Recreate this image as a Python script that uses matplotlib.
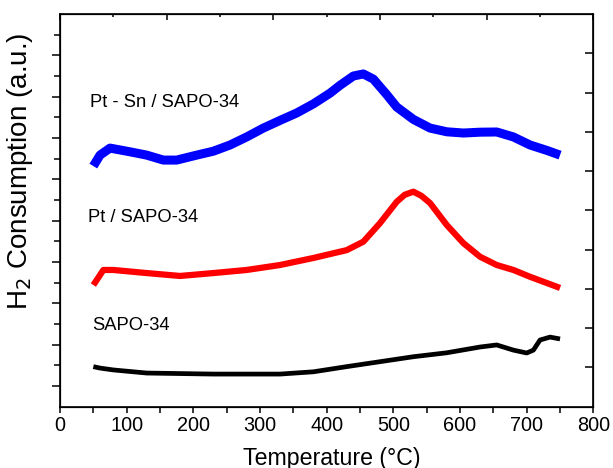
import matplotlib
matplotlib.use("Agg")
import matplotlib.pyplot as plt
import numpy as np

plt.rcParams['font.family'] = ['Liberation Sans', 'DejaVu Sans']

# ---- data (arbitrary units) ----
temp_ptsn = [50, 60, 75, 90, 105, 130, 155, 175, 205, 230, 255, 280, 305, 330, 355, 380, 405, 420, 440, 455, 470, 490, 505, 530, 555, 580, 605, 630, 655, 680, 705, 730, 750]
h2_ptsn = [11.64, 12.17, 12.51, 12.42, 12.33, 12.17, 11.93, 11.93, 12.17, 12.36, 12.66, 13.05, 13.48, 13.85, 14.21, 14.65, 15.17, 15.55, 16.00, 16.10, 15.85, 15.10, 14.50, 13.90, 13.48, 13.30, 13.24, 13.28, 13.29, 13.05, 12.66, 12.40, 12.17]

temp_pt = [50, 55, 65, 80, 130, 180, 230, 280, 330, 380, 430, 455, 480, 505, 517, 530, 542, 555, 580, 605, 630, 655, 680, 705, 730, 750]
h2_pt = [5.88, 6.12, 6.61, 6.61, 6.46, 6.32, 6.46, 6.61, 6.85, 7.19, 7.57, 7.98, 8.88, 9.91, 10.25, 10.40, 10.20, 9.85, 8.79, 7.91, 7.25, 6.85, 6.61, 6.28, 5.98, 5.74]

temp_sapo = [50, 60, 80, 130, 230, 330, 380, 430, 480, 530, 580, 630, 655, 680, 700, 710, 720, 735, 750]
h2_sapo = [1.93, 1.86, 1.77, 1.62, 1.57, 1.57, 1.68, 1.93, 2.17, 2.41, 2.60, 2.88, 2.98, 2.73, 2.59, 2.73, 3.22, 3.36, 3.27]

series_labels = ["Pt - Sn / SAPO-34", "Pt / SAPO-34", "SAPO-34"]
x_ticks = [0, 100, 200, 300, 400, 500, 600, 700, 800]

fig = plt.figure(figsize=(6.13, 4.68), dpi=100)
ax = fig.add_axes([0.0979, 0.1314, 0.8701, 0.8386])

ax.plot(temp_ptsn, h2_ptsn, color='#0000ff', lw=6.5, solid_joinstyle='round', solid_capstyle='butt')
ax.plot(temp_pt, h2_pt, color='#ff0000', lw=4.5, solid_joinstyle='round', solid_capstyle='butt')
ax.plot(temp_sapo, h2_sapo, color='black', lw=3.4, solid_joinstyle='round', solid_capstyle='butt')

ax.set_xlim(0, 800)
ax.set_ylim(0, 19)

ax.set_xticks(x_ticks)
ax.set_xticks(np.arange(50, 800, 100), minor=True)
ax.set_yticks(np.arange(1, 19, 2))
ax.set_yticks(np.arange(2, 19, 2), minor=True)
ax.set_yticklabels([])
ax.tick_params(axis='x', which='major', direction='out', length=4, width=1.1, labelsize=14.3, pad=3)
ax.tick_params(axis='x', which='minor', direction='out', length=4, width=1.1)
ax.tick_params(axis='y', which='major', direction='out', length=6, width=1.1)
ax.tick_params(axis='y', which='minor', direction='out', length=4.5, width=1.1)
for s in ax.spines.values():
    s.set_linewidth(1.2)

# top axis ticks
axt = ax.twiny()
axt.set_xlim(0, 800)
axt.set_xticks(np.arange(0, 801, 160))
axt.set_xticks(np.arange(80, 800, 160), minor=True)
axt.set_xticklabels([])
axt.tick_params(axis='x', which='major', direction='in', length=4, width=1.1)
axt.tick_params(axis='x', which='minor', direction='in', length=2.5, width=1.1)

# right axis ticks
axr = ax.twinx()
axr.set_ylim(0, 1)
axr.set_yticks(np.arange(0.1, 0.95, 0.1))
axr.set_yticklabels([])
axr.tick_params(axis='y', direction='in', length=5.5, width=1.1)

ax.text(45, 14.74, series_labels[0], fontsize=13.2, va='center', ha='left')
ax.text(42, 9.17, series_labels[1], fontsize=13.2, va='center', ha='left')
ax.text(48, 3.90, series_labels[2], fontsize=13.2, va='center', ha='left')

ax.set_xlabel("Temperature (°C)", fontsize=16.7)
ax.xaxis.set_label_coords(0.51, -0.102)
ax.set_ylabel("H$_2$ Consumption (a.u.)", fontsize=20)
ax.yaxis.set_label_coords(-0.047, 0.6)

fig.savefig("out.png", dpi=100)
